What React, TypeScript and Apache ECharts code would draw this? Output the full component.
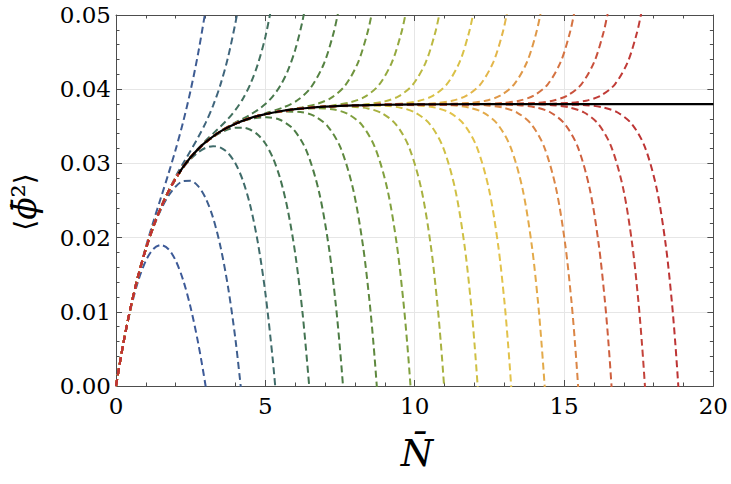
import React, { useEffect, useRef } from 'react';
import * as echarts from 'echarts';

// N-bar axis range and ticks
const X_MIN = 0;
const X_MAX = 20;
const X_STEP = 5;
const Y_MIN = 0;
const Y_MAX = 0.05;
const Y_STEP = 0.01;

// Exact (resummed) curve, [N, <phi^2>]
const EXACT: number[][] = [
  [0, 0], [0.25, 0.005833], [0.5, 0.010773], [0.75, 0.014953], [1, 0.018491],
  [1.25, 0.021485], [1.5, 0.02402], [1.75, 0.026167], [2, 0.027983], [2.1, 0.02863],
  [2.25, 0.029522], [2.5, 0.030822], [2.75, 0.031924], [3, 0.032858], [3.5, 0.034314],
  [4, 0.035359], [4.5, 0.036108], [5, 0.036643], [5.5, 0.037029], [6, 0.037304],
  [6.5, 0.037501], [7, 0.037643], [7.5, 0.037744], [8, 0.037817], [9, 0.037906],
  [10, 0.037952], [12, 0.037987], [14, 0.037997], [16, 0.038], [18, 0.038], [20, 0.038],
];
const EXACT_START = 2.1;

// Truncated expansions, order by order
const ORDER_2: number[][] = [[0, 0], [0.25, 0.005806], [0.5, 0.010556], [0.75, 0.01425], [1, 0.016889], [1.25, 0.018472], [1.5, 0.019], [1.75, 0.018472], [2, 0.016889], [2.25, 0.01425], [2.5, 0.010556], [2.75, 0.005806], [3, 0], [3.25, -0.00686]];
const ORDER_3: number[][] = [[0, 0], [0.25, 0.005835], [0.5, 0.01079], [0.75, 0.015042], [1, 0.018765], [1.25, 0.022138], [1.5, 0.025333], [1.75, 0.02853], [2, 0.031901], [2.25, 0.035625], [2.5, 0.039877], [2.75, 0.044831], [3, 0.050667]];
const ORDER_4: number[][] = [[0, 0], [0.25, 0.005834], [0.5, 0.010773], [0.75, 0.014942], [1, 0.018452], [1.25, 0.021375], [1.5, 0.02375], [1.75, 0.025597], [2, 0.026897], [2.25, 0.027609], [2.5, 0.02766], [2.75, 0.026946], [3, 0.025333], [3.25, 0.022663], [3.5, 0.018745], [3.75, 0.013359], [4, 0.006255], [4.25, -0.002846]];
const ORDER_5: number[][] = [[2, 0.028231], [2.25, 0.030016], [2.5, 0.031733], [2.75, 0.033505], [3, 0.035467], [3.25, 0.037783], [3.5, 0.040649], [3.75, 0.044285], [4, 0.048955], [4.1, 0.051183]];
const ORDER_6: number[][] = [[2, 0.027934], [2.25, 0.029416], [2.5, 0.030601], [2.75, 0.031502], [3, 0.032089], [3.25, 0.032323], [3.5, 0.032133], [3.75, 0.031399], [4, 0.029978], [4.25, 0.027672], [4.5, 0.024225], [4.75, 0.019319], [5, 0.012567], [5.25, 0.003488], [5.4, -0.0033]];
const ORDER_7: number[][] = [[2.5, 0.030871], [3, 0.033052], [3.25, 0.034014], [3.5, 0.034971], [3.75, 0.036001], [4, 0.03721], [4.25, 0.038722], [4.5, 0.040713], [4.75, 0.043396], [5, 0.04704], [5.25, 0.052]];
const ORDER_8: number[][] = [[3, 0.032813], [3.5, 0.034143], [4, 0.0348], [4.25, 0.034808], [4.5, 0.034531], [4.75, 0.033866], [5, 0.032676], [5.25, 0.030776], [5.5, 0.027915], [5.75, 0.02375], [6, 0.017852], [6.25, 0.009675], [6.5, -0.0015]];
const ORDER_9: number[][] = [[3.5, 0.034358], [4, 0.035515], [4.25, 0.036039], [4.5, 0.03659], [4.75, 0.037217], [5, 0.037996], [5.25, 0.03903], [5.5, 0.040459], [5.75, 0.042465], [6, 0.045304], [6.25, 0.049313], [6.5, 0.0549]];
const ORDER_10: number[][] = [[4.551, 0.03602], [5.039, 0.036225], [5.486, 0.03588], [5.936, 0.034614], [6.371, 0.031757], [6.796, 0.02619], [7.128, 0.018673], [7.355, 0.011119], [7.49, 0.005442], [7.6, 0], [7.704, -0.00592]];
const ORDER_11: number[][] = [[5.109, 0.03689], [5.608, 0.037552], [6.061, 0.038471], [6.514, 0.040166], [6.95, 0.043331], [7.259, 0.0472], [7.419, 0.05], [7.588, 0.053717]];
const ORDER_12: number[][] = [[5.666, 0.036978], [6.173, 0.036924], [6.632, 0.036404], [7.088, 0.035002], [7.525, 0.032049], [7.945, 0.02641], [8.271, 0.018847], [8.492, 0.011268], [8.623, 0.005578], [8.731, 0], [8.83, -0.005806]];
const ORDER_13: number[][] = [[6.222, 0.037552], [6.738, 0.03803], [7.202, 0.038828], [7.66, 0.04043], [8.096, 0.043528], [8.403, 0.04736], [8.553, 0.05], [8.727, 0.053846]];
const ORDER_14: number[][] = [[6.781, 0.037434], [7.304, 0.037251], [7.772, 0.036647], [8.231, 0.035184], [8.668, 0.032182], [9.086, 0.026511], [9.406, 0.018928], [9.623, 0.011339], [9.752, 0.005643], [9.86, 0], [9.954, -0.0057]];
const ORDER_15: number[][] = [[7.34, 0.037867], [7.868, 0.038256], [8.339, 0.038994], [8.801, 0.040554], [9.237, 0.04362], [9.542, 0.047435], [9.687, 0.05], [9.862, 0.053907]];
const ORDER_16: number[][] = [[7.899, 0.03765], [8.433, 0.037407], [8.907, 0.036761], [9.37, 0.035268], [9.806, 0.032245], [10.221, 0.026558], [10.538, 0.018966], [10.752, 0.01137], [10.878, 0.005673], [10.984, 0], [11.076, -0.0057]];
const ORDER_17: number[][] = [[8.458, 0.038017], [8.998, 0.038361], [9.474, 0.039072], [9.938, 0.040611], [10.374, 0.043662], [10.677, 0.04747], [10.82, 0.05], [10.994, 0.053933]];
const ORDER_18: number[][] = [[9.019, 0.037754], [9.562, 0.037479], [10.04, 0.036813], [10.505, 0.035306], [10.941, 0.032274], [11.353, 0.026581], [11.667, 0.018985], [11.879, 0.011385], [12.003, 0.005689], [12.108, 0], [12.199, -0.0057]];
const ORDER_19: number[][] = [[9.578, 0.038087], [10.126, 0.03841], [10.606, 0.039107], [11.071, 0.040637], [11.507, 0.043681], [11.808, 0.047485], [11.95, 0.05], [12.123, 0.053947]];
const ORDER_20: number[][] = [[10.138, 0.037804], [10.688, 0.037514], [11.171, 0.036838], [11.637, 0.035325], [12.072, 0.032289], [12.483, 0.026592], [12.794, 0.018992], [13.004, 0.011392], [13.126, 0.005693], [13.23, 0], [13.319, -0.0057]];
const ORDER_21: number[][] = [[10.697, 0.038122], [11.251, 0.038435], [11.735, 0.039125], [12.201, 0.040649], [12.637, 0.043692], [12.937, 0.04749], [13.077, 0.05], [13.25, 0.05396]];
const ORDER_22: number[][] = [[11.257, 0.037827], [11.813, 0.03753], [12.299, 0.036849], [12.766, 0.035332], [13.201, 0.032296], [13.61, 0.026596], [13.919, 0.019], [14.127, 0.0114], [14.248, 0.0057], [14.351, 0], [14.439, -0.0057]];
const ORDER_23: number[][] = [[11.816, 0.038138], [12.375, 0.038446], [12.862, 0.039132], [13.329, 0.040656], [13.764, 0.0437], [14.064, 0.0475], [14.203, 0.05], [14.375, 0.05396]];
const ORDER_24: number[][] = [[12.375, 0.037838], [12.937, 0.037537], [13.425, 0.036855], [13.893, 0.035337], [14.328, 0.0323], [14.735, 0.0266], [15.043, 0.019], [15.249, 0.0114], [15.369, 0.0057], [15.471, 0], [15.558, -0.0057]];
const ORDER_25: number[][] = [[12.935, 0.038144], [13.498, 0.038452], [13.987, 0.039139], [14.456, 0.04066], [14.891, 0.0437], [15.189, 0.0475], [15.327, 0.05], [15.499, 0.05396]];
const ORDER_26: number[][] = [[13.494, 0.037844], [14.059, 0.03754], [14.549, 0.03686], [15.018, 0.03534], [15.453, 0.0323], [15.859, 0.0266], [16.165, 0.019], [16.37, 0.0114], [16.49, 0.0057], [16.59, 0], [16.677, -0.0057]];
const ORDER_27: number[][] = [[14.053, 0.038152], [14.62, 0.038456], [15.111, 0.03914], [15.58, 0.04066], [16.014, 0.0437], [16.312, 0.0475], [16.45, 0.05], [16.621, 0.05396]];
const ORDER_28: number[][] = [[14.613, 0.037846], [15.182, 0.037542], [15.673, 0.03686], [16.143, 0.03534], [16.577, 0.0323], [16.982, 0.0266], [17.287, 0.019], [17.49, 0.0114], [17.609, 0.0057], [17.709, 0], [17.796, -0.0057]];
const ORDER_29: number[][] = [[15.171, 0.038152], [15.741, 0.038456], [16.234, 0.03914], [16.704, 0.04066], [17.137, 0.0437], [17.434, 0.0475], [17.572, 0.05], [17.742, 0.05396]];
const ORDER_30: number[][] = [[15.73, 0.037848], [16.302, 0.037544], [16.795, 0.03686], [17.265, 0.03534], [17.699, 0.0323], [18.102, 0.0266], [18.406, 0.019], [18.609, 0.0114], [18.727, 0.0057], [18.826, 0], [18.912, -0.0057]];

const CURVES: [number, number[][]][] = [
  [2, ORDER_2], [3, ORDER_3], [4, ORDER_4], [5, ORDER_5], [6, ORDER_6], [7, ORDER_7],
  [8, ORDER_8], [9, ORDER_9], [10, ORDER_10], [11, ORDER_11], [12, ORDER_12], [13, ORDER_13],
  [14, ORDER_14], [15, ORDER_15], [16, ORDER_16], [17, ORDER_17], [18, ORDER_18], [19, ORDER_19],
  [20, ORDER_20], [21, ORDER_21], [22, ORDER_22], [23, ORDER_23], [24, ORDER_24], [25, ORDER_25],
  [26, ORDER_26], [27, ORDER_27], [28, ORDER_28], [29, ORDER_29], [30, ORDER_30],
];

// colour for even orders 2,4,...,30 (odd orders blend neighbours)
const COLOR_STOPS = [
  '#3d5a98', '#3e5e8e', '#3f6b6a', '#447453', '#4c7c45', '#5e883e', '#80a03e', '#a8b140',
  '#cfc044', '#e2c24a', '#e3aa4a', '#db8646', '#ce5f3e', '#c3423a', '#bd3434',
];

const SERIF = 'DejaVu Serif';
const FRAME = '#4d4d4d';
const GRID = '#e6e6e6';

function hexToRgb(h: string) {
  const n = parseInt(h.slice(1), 16);
  return [(n >> 16) & 255, (n >> 8) & 255, n & 255];
}
function colorFor(k: number) {
  const f = (k - 2) / 2;
  const i = Math.floor(f);
  const r = f - i;
  if (i >= COLOR_STOPS.length - 1) return COLOR_STOPS[COLOR_STOPS.length - 1];
  if (r === 0) return COLOR_STOPS[i];
  const a = hexToRgb(COLOR_STOPS[i]);
  const b = hexToRgb(COLOR_STOPS[i + 1]);
  const c = a.map((v, j) => Math.round(v + (b[j] - v) * r));
  return `rgb(${c[0]},${c[1]},${c[2]})`;
}

function withPrefix(points: number[][]) {
  const first = points[0][0];
  const prefix = EXACT.filter((p) => p[0] < first - 0.3);
  return prefix.concat(points);
}

export default function App() {
  const ref = useRef<HTMLDivElement>(null);
  useEffect(() => {
    if (!ref.current) return;
    const chart = echarts.init(ref.current, undefined, { renderer: 'svg' });

    const axisCommon = {
      type: 'value' as const,
      axisLine: { show: true, onZero: false, lineStyle: { color: FRAME, width: 1 } },
      axisTick: { show: true, inside: true, length: 6, lineStyle: { color: FRAME, width: 1 } },
      minorTick: { show: true, splitNumber: 5, length: 3.5, lineStyle: { color: FRAME, width: 1 } },
    };

    const series: any[] = CURVES.map(([k, pts]) => ({
      type: 'line',
      name: `order ${k}`,
      data: withPrefix(pts),
      showSymbol: false,
      symbol: 'none',
      smooth: 0.3,
      silent: true,
      clip: true,
      lineStyle: { color: colorFor(k), width: 2, type: [7, 4] },
      z: 2,
    }));
    series.push({
      type: 'line',
      name: 'exact',
      data: EXACT.filter((p) => p[0] >= EXACT_START),
      showSymbol: false,
      symbol: 'none',
      smooth: 0.3,
      silent: true,
      clip: true,
      lineStyle: { color: '#000', width: 2.2, type: 'solid' },
      z: 3,
    });

    chart.setOption({
      animation: false,
      grid: { left: 116, top: 15, width: 600, height: 371, containLabel: false },
      xAxis: [
        {
          ...axisCommon,
          position: 'bottom',
          min: X_MIN, max: X_MAX, interval: X_STEP,
          splitLine: { show: true, lineStyle: { color: GRID, width: 1 } },
          axisLabel: { show: true, fontFamily: SERIF, fontSize: 23, color: '#000', margin: 8 },
        },
        {
          ...axisCommon,
          position: 'top',
          min: X_MIN, max: X_MAX, interval: X_STEP,
          splitLine: { show: false },
          axisLabel: { show: false },
        },
      ],
      yAxis: [
        {
          ...axisCommon,
          position: 'left',
          min: Y_MIN, max: Y_MAX, interval: Y_STEP,
          splitLine: { show: true, lineStyle: { color: GRID, width: 1 } },
          axisLabel: {
            show: true, fontFamily: SERIF, fontSize: 23, color: '#000', margin: 5,
            formatter: (v: number) => v.toFixed(2),
          },
        },
        {
          ...axisCommon,
          position: 'right',
          min: Y_MIN, max: Y_MAX, interval: Y_STEP,
          splitLine: { show: false },
          axisLabel: { show: false },
        },
      ],
      series,
      graphic: [
        {
          type: 'text',
          x: 417,
          y: 453,
          silent: true,
          style: {
            text: 'N\u0304',
            fontFamily: SERIF,
            fontStyle: 'italic',
            fontSize: 37,
            fill: '#000',
            align: 'center',
            verticalAlign: 'middle',
            textAlign: 'center',
            textVerticalAlign: 'middle',
          },
        },
        {
          type: 'text',
          x: 24,
          y: 202,
          rotation: Math.PI / 2,
          silent: true,
          style: {
            text: '{b|\u27E8}{p|\u03D5\u0304}{s|\u00B2}{b|\u27E9}',
            fill: '#000',
            align: 'center',
            verticalAlign: 'middle',
            textAlign: 'center',
            textVerticalAlign: 'middle',
            rich: {
              b: { fontFamily: SERIF, fontSize: 28, fill: '#000' },
              p: { fontFamily: SERIF, fontStyle: 'italic', fontSize: 33, fill: '#000' },
              s: { fontFamily: SERIF, fontSize: 33, fill: '#000' },
            },
          },
        },
      ],
    });

    return () => chart.dispose();
  }, []);

  return (
    <div
      ref={ref}
      style={{ position: 'fixed', left: 0, top: 0, width: 731, height: 484, background: '#fff' }}
    />
  );
}
